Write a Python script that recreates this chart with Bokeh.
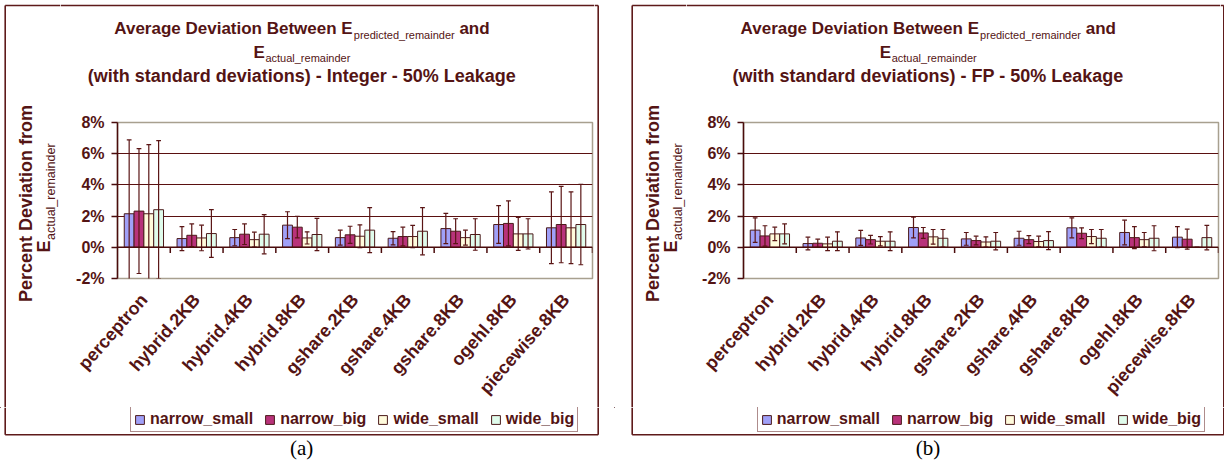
import math
from bokeh.plotting import figure
from bokeh.models import (ColumnDataSource, FactorRange, Range1d, FixedTicker,
                          PrintfTickFormatter, Span, Legend, LegendItem)
from bokeh.core.properties import value
from bokeh.transform import dodge
from bokeh.layouts import row, column
from bokeh.embed import file_html
from bokeh.resources import INLINE

# ---------------- data ----------------
categories = ["perceptron", "hybrid.2KB", "hybrid.4KB", "hybrid.8KB", "gshare.2KB",
              "gshare.4KB", "gshare.8KB", "ogehl.8KB", "piecewise.8KB"]
series_names = ["narrow_small", "narrow_big", "wide_small", "wide_big"]
y_ticks = [-2, 0, 2, 4, 6, 8]

# (a) Integer - mean percent deviation and standard deviation
int_narrow_small = [2.15, 0.56, 0.62, 1.42, 0.62, 0.58, 1.20, 1.46, 1.25]
int_narrow_small_sd = [4.73, 0.77, 0.52, 0.86, 0.48, 0.43, 0.97, 1.21, 2.30]
int_narrow_big = [2.32, 0.77, 0.84, 1.29, 0.80, 0.69, 1.03, 1.53, 1.46]
int_narrow_big_sd = [4.00, 0.73, 0.66, 0.69, 0.55, 0.60, 0.80, 1.44, 2.45]
int_wide_small = [2.15, 0.60, 0.49, 0.60, 0.71, 0.69, 0.62, 0.86, 1.25]
int_wide_small_sd = [4.43, 0.82, 0.48, 0.39, 0.73, 0.71, 0.48, 1.06, 2.30]
int_wide_big = [2.41, 0.88, 0.84, 0.82, 1.10, 1.03, 0.82, 0.86, 1.46]
int_wide_big_sd = [4.43, 1.53, 1.26, 1.03, 1.44, 1.51, 1.01, 0.97, 2.58]

# (b) FP
fp_narrow_small = [1.10, 0.24, 0.60, 1.27, 0.54, 0.58, 1.25, 0.95, 0.65]
fp_narrow_small_sd = [0.79, 0.41, 0.48, 0.67, 0.41, 0.45, 0.64, 0.79, 0.68]
fp_narrow_big = [0.73, 0.26, 0.49, 0.92, 0.43, 0.49, 0.90, 0.62, 0.52]
fp_narrow_big_sd = [0.65, 0.26, 0.28, 0.35, 0.28, 0.26, 0.35, 0.71, 0.64]
fp_wide_small = [0.86, 0.22, 0.39, 0.67, 0.34, 0.37, 0.69, 0.49, 0.0]
fp_wide_small_sd = [0.43, 0.43, 0.30, 0.47, 0.33, 0.34, 0.45, 0.46, 0.0]
fp_wide_big = [0.86, 0.39, 0.39, 0.58, 0.39, 0.43, 0.58, 0.58, 0.62]
fp_wide_big_sd = [0.64, 0.60, 0.60, 0.56, 0.56, 0.58, 0.56, 0.80, 0.78]

# ---------------- style ----------------
FONT = "Liberation Sans"
SERIF = "Liberation Serif"
MAROON = "#541414"
AXIS = "#4a0c0c"
GRID = "#5a1010"
ERR = "#5a1515"
FRAME = "#a8a08f"
BORDER = "#5e1a1a"
COLORS = ["#a0a0f8", "#b8327a", "#fffbdc", "#e0fcec"]
BAR_LINE = "#4a1a1a"
BAR_W = 0.186
OFFSETS = [-1.5 * BAR_W, -0.5 * BAR_W, 0.5 * BAR_W, 1.5 * BAR_W]
CAP = 0.045
MID = 0.3465   # distance (in em) from the alphabetic baseline up to the line-box centre

BOLD_W = {" ": 278, "(": 333, ")": 333, "-": 333, "%": 889, "_": 556, ".": 278,
          "A": 722, "B": 722, "D": 722, "E": 667, "F": 611, "I": 278, "L": 611, "P": 667,
          "a": 556, "b": 611, "c": 556, "d": 611, "e": 556, "f": 333, "g": 611, "h": 611,
          "i": 278, "k": 556, "l": 278, "m": 889, "n": 611, "o": 611, "p": 611, "r": 389,
          "s": 556, "t": 333, "u": 611, "v": 556, "w": 778, "y": 556}
REG_W = {"a": 556, "c": 500, "d": 556, "e": 556, "i": 222, "l": 222, "m": 833, "n": 556,
         "p": 556, "r": 333, "t": 278, "u": 556, "_": 556}


def tw(s, table, size):
    return sum(table.get(ch, 556) for ch in s) * size / 1000.0


# ---------------- page geometry (page pixels, origin at top-left) ----------------
TOP_H = 110                # title strip: 0..110
CH_TOP = 12
CH_FRAME_H = 156           # frame 122..278
CH_BOTTOM = 129
MID_H = CH_TOP + CH_FRAME_H + CH_BOTTOM   # 297 -> 110..407
BOT_Y0 = TOP_H + MID_H     # 407
BOT_H = 56                 # 407..463
FRAME_W = 475
CH_LEFT = 57
CH_RIGHT = 2
CH_W = CH_LEFT + FRAME_W + CH_RIGHT
BORDER_TOP = 5.0
BORDER_BOTTOM = 434.3


def pix_fig(w, h):
    f = figure(width=w, height=h, x_range=Range1d(0, w), y_range=Range1d(h, 0),
               min_border=0, toolbar_location=None, tools="", output_backend="svg",
               x_axis_location=None, y_axis_location=None)
    f.grid.visible = False
    f.outline_line_color = None
    f.background_fill_color = "white"
    f.border_fill_color = "white"
    return f


def ptext(f, x, y, text, size, bold=True, align="left", angle=0.0, font=FONT,
          color=MAROON):
    """x, y: anchor of the line-box centre (baseline 'middle')."""
    f.text(x=[x], y=[y], text=[text], text_font=value(font),
           text_font_style="bold" if bold else "normal",
           text_font_size=value(f"{size}px"), text_color=color,
           text_align=align, text_baseline="middle", angle=angle)


def seg(f, x0, y0, x1, y1):
    f.segment(x0=[x0], y0=[y0], x1=[x1], y1=[y1], line_color=BORDER, line_width=1.6)


def build_panel(vals, sds, kind, caption, px0, px1, panel_left, panel_right,
                frame_left, legend_left):
    cx = (panel_left + panel_right) / 2.0
    ch_x0 = frame_left - CH_LEFT
    ch_x1 = ch_x0 + CH_W

    # ---- left strip: y-axis title (0..BOT_Y0) ----
    lw = ch_x0 - px0
    left = pix_fig(lw, BOT_Y0)
    lx = lambda x: x - px0
    seg(left, lx(panel_left), BORDER_TOP, lx(panel_left), BOT_Y0)
    seg(left, lx(panel_left), BORDER_TOP, lw, BORDER_TOP)
    ptext(left, lx(panel_left + 27.0 - MID * 18), 203, "Percent Deviation from", 18,
          align="center", angle=math.pi / 2)
    e_w = tw("E", BOLD_W, 18)
    ptext(left, lx(panel_left + 45.5 - MID * 18), 252, "E", 18, angle=math.pi / 2)
    ptext(left, lx(panel_left + 50.5 - MID * 12.5), 252 - e_w - 0.5, "actual_remainder",
          12.5, bold=False, angle=math.pi / 2)

    # ---- right strip: right border (0..BOT_Y0) ----
    rw = px1 - ch_x1
    right = pix_fig(rw, BOT_Y0)
    rx = lambda x: x - ch_x1
    seg(right, 0, BORDER_TOP, rx(panel_right), BORDER_TOP)
    seg(right, rx(panel_right), BORDER_TOP, rx(panel_right), BOT_Y0)

    # ---- title strip (ch_x0..ch_x1, 0..TOP_H) ----
    top = pix_fig(CH_W, TOP_H)
    tx = lambda x: x - ch_x0
    seg(top, 0, BORDER_TOP, CH_W, BORDER_TOP)
    t_size, s_size = 17, 11
    b1, b2, b3 = 34.0, 57.5, 82.0      # baselines of the three title lines
    pa = "Average Deviation Between E"
    w_pa = tw(pa, BOLD_W, t_size)
    w_sub = tw("predicted_remainder", REG_W, s_size)
    w_and = tw(" and", BOLD_W, t_size)
    x0 = cx - (w_pa + w_sub + w_and) / 2.0
    ptext(top, tx(x0), b1 - MID * t_size, pa, t_size)
    ptext(top, tx(x0 + w_pa + 0.5), b1 + 4 - MID * s_size, "predicted_remainder", s_size,
          bold=False)
    ptext(top, tx(x0 + w_pa + w_sub + tw(" ", BOLD_W, t_size) + 0.5), b1 - MID * t_size,
          "and", t_size)
    w_e = tw("E", BOLD_W, t_size)
    w_sub2 = tw("actual_remainder", REG_W, s_size)
    x1 = cx - (w_e + w_sub2) / 2.0
    ptext(top, tx(x1), b2 - MID * t_size, "E", t_size)
    ptext(top, tx(x1 + w_e + 0.5), b2 + 4 - MID * s_size, "actual_remainder", s_size,
          bold=False)
    ptext(top, tx(cx), b3 - MID * 18, f"(with standard deviations) - {kind} - 50% Leakage",
          18, align="center")

    # ---- chart ----
    p = figure(x_range=FactorRange(factors=categories), y_range=Range1d(-2, 8),
               width=CH_W, height=MID_H,
               min_border_left=CH_LEFT, min_border_right=CH_RIGHT,
               min_border_top=CH_TOP, min_border_bottom=CH_BOTTOM,
               toolbar_location=None, tools="", output_backend="svg",
               background_fill_color="white", border_fill_color="white")
    p.outline_line_color = FRAME
    p.outline_line_width = 1.5

    data = dict(cat=categories)
    for i in range(4):
        v = vals[i]
        s = sds[i]
        data[f"v{i}"] = v
        data[f"lo{i}"] = [a - b for a, b in zip(v, s)]
        data[f"hi{i}"] = [a + b for a, b in zip(v, s)]
    src = ColumnDataSource(data)

    p.xgrid.visible = False
    p.ygrid.ticker = FixedTicker(ticks=[2, 4, 6])
    p.ygrid.grid_line_color = GRID
    p.ygrid.grid_line_width = 1

    for i in range(4):
        p.vbar(x=dodge("cat", OFFSETS[i], range=p.x_range), top=f"v{i}", bottom=0,
               width=BAR_W, source=src, fill_color=COLORS[i], line_color=BAR_LINE,
               line_width=1)
    for i in range(4):
        off = OFFSETS[i]
        p.segment(x0=dodge("cat", off, range=p.x_range), y0=f"lo{i}",
                  x1=dodge("cat", off, range=p.x_range), y1=f"hi{i}",
                  source=src, line_color=ERR, line_width=1.2)
        for col in (f"lo{i}", f"hi{i}"):
            p.segment(x0=dodge("cat", off - CAP, range=p.x_range), y0=col,
                      x1=dodge("cat", off + CAP, range=p.x_range), y1=col,
                      source=src, line_color=ERR, line_width=1.2)

    p.add_layout(Span(location=0, dimension="width", line_color=AXIS, line_width=1.5))
    p.segment(x0=dodge("cat", 0.5, range=p.x_range), y0=0,
              x1=dodge("cat", 0.5, range=p.x_range), y1=-0.36,
              source=src, line_color=AXIS, line_width=1.5)

    yax = p.yaxis[0]
    yax.ticker = FixedTicker(ticks=y_ticks)
    yax.formatter = PrintfTickFormatter(format="%d%%")
    yax.axis_line_color = AXIS
    yax.axis_line_width = 1.5
    yax.major_tick_line_color = AXIS
    yax.major_tick_line_width = 1.5
    yax.major_tick_out = 6
    yax.major_tick_in = 0
    yax.minor_tick_line_color = None
    yax.major_label_standoff = 7
    yax.major_label_text_font = FONT
    yax.major_label_text_font_style = "bold"
    yax.major_label_text_font_size = "16px"
    yax.major_label_text_color = MAROON

    xax = p.xaxis[0]
    xax.axis_line_color = None
    xax.major_tick_line_color = None
    xax.major_tick_out = 0
    xax.major_tick_in = 0
    xax.minor_tick_line_color = None
    xax.major_label_orientation = 0.85
    xax.major_label_standoff = 18
    xax.major_label_text_font = FONT
    xax.major_label_text_font_style = "bold"
    xax.major_label_text_font_size = "18px"
    xax.major_label_text_color = MAROON

    # ---- bottom strip: legend, border, caption ----
    bot = pix_fig(px1 - px0, BOT_H)
    by = lambda y: y - BOT_Y0
    seg(bot, lx(panel_left), 0, lx(panel_left), by(BORDER_BOTTOM))
    seg(bot, lx(panel_right), 0, lx(panel_right), by(BORDER_BOTTOM))
    seg(bot, lx(panel_left), by(BORDER_BOTTOM), lx(panel_right), by(BORDER_BOTTOM))
    items = []
    for i, name in enumerate(series_names):
        # off-canvas placeholder glyph carrying the series style for the legend swatch
        r = bot.vbar(x=[-100], top=[-90], bottom=[-100], width=5, fill_color=COLORS[i],
                     line_color=BAR_LINE, line_width=1)
        items.append(LegendItem(label=name, renderers=[r]))
    legend = Legend(items=items, location=(lx(legend_left), BOT_H - by(432.3)),
                    orientation="horizontal")
    legend.label_text_font = FONT
    legend.label_text_font_style = "bold"
    legend.label_text_font_size = "16px"
    legend.label_text_color = MAROON
    legend.glyph_width = 11
    legend.glyph_height = 11
    legend.label_standoff = 5
    legend.spacing = 11
    legend.padding = 3
    legend.margin = 0
    legend.border_line_color = BORDER
    legend.border_line_width = 1
    legend.background_fill_color = "white"
    legend.background_fill_alpha = 1.0
    bot.add_layout(legend)
    ptext(bot, lx(cx), by(447), caption, 21, bold=False, align="center", font=SERIF,
          color="black")

    # the chart is wrapped in its own row so that the column does not align the
    # title strip's frame with the chart's frame
    return column(row(left, column(top, row(p)), right), bot)


panelA = build_panel([int_narrow_small, int_narrow_big, int_wide_small, int_wide_big],
                     [int_narrow_small_sd, int_narrow_big_sd, int_wide_small_sd, int_wide_big_sd],
                     "Integer", "(a)", px0=0, px1=614, panel_left=4.7, panel_right=597.7,
                     frame_left=117, legend_left=130.0)
panelB = build_panel([fp_narrow_small, fp_narrow_big, fp_wide_small, fp_wide_big],
                     [fp_narrow_small_sd, fp_narrow_big_sd, fp_wide_small_sd, fp_wide_big_sd],
                     "FP", "(b)", px0=614, px1=1224, panel_left=631.7, panel_right=1223.3,
                     frame_left=743, legend_left=756.8)

layout = row(panelA, panelB)
open("out.html", "w").write(file_html(layout, INLINE))
